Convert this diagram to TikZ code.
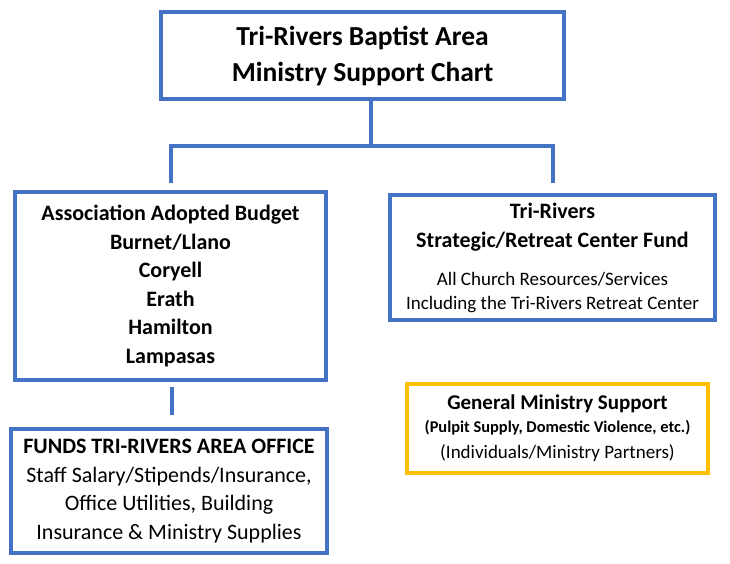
\documentclass[tikz,border=0pt]{standalone}
\usepackage{fontspec}
\setmainfont{Carlito}
\usepackage{xcolor}
\usepackage{tikz}
\usetikzlibrary{positioning}
\definecolor{trBlue}{HTML}{4472C4}
\definecolor{trGold}{HTML}{FFC000}
\tikzset{
  chartbox/.style={
    rectangle, draw=#1, line width=4pt,
    fill=white, inner sep=0pt,
    align=center
  },
  link/.style={
    trBlue, line width=4pt
  },
  fs/.style 2 args={font=\fontsize{#1}{#2}\selectfont}
}
\newcommand{\sz}[1]{\fontsize{#1}{#1}\selectfont}

\begin{document}
\begin{tikzpicture}[x=1pt, y=-1pt]
      \useasboundingbox (0,0) rectangle (730,563);
      % boxes
      \node[chartbox=trBlue, minimum width=403pt, minimum height=87pt, fs={27.5}{36}]
        (top) at (362.5,55.5) {\bfseries Tri-Rivers Baptist Area\\\bfseries Ministry Support Chart};
      \node[chartbox=trBlue, minimum width=311pt, minimum height=188pt, fs={22}{28.5}]
        (lft) at (170.5,286) {\bfseries Association Adopted Budget\\\bfseries Burnet/Llano\\\bfseries Coryell\\
        \bfseries Erath\\\bfseries Hamilton\\\bfseries Lampasas};
      \node[chartbox=trBlue, minimum width=325pt, minimum height=125pt, fs={19}{24}]
        (rgt) at (552.5,257.5) {\sz{22}\bfseries Tri-Rivers\\[5pt]
        \sz{22}\bfseries Strategic/Retreat Center Fund\\[14pt]
        All Church Resources/Services\\
        Including the Tri-Rivers Retreat Center};
      \node[chartbox=trBlue, minimum width=316pt, minimum height=124pt, fs={22}{28.7}]
        (fnd) at (169,491) {\bfseries FUNDS TRI-RIVERS AREA OFFICE\\Staff Salary/Stipends/Insurance,\\
        Office Utilities, Building\\Insurance \& Ministry Supplies};
      \node[chartbox=trGold, minimum width=301pt, minimum height=89pt, fs={19}{23}]
        (gms) at (557.5,428.5) {\sz{21}\bfseries General Ministry Support\\
        \sz{16.4}\bfseries (Pulpit Supply, Domestic Violence, etc.)\\[3pt]
        (Individuals/Ministry Partners)};
      % connectors
      \coordinate (fork) at (371,146);
      \coordinate (lt) at ([yshift=7pt]lft.north);
      \coordinate (rt) at ([yshift=10pt]rgt.north);
      \draw[link] (top.south -| fork) -- (fork);
      \draw[link] (lt) |- (fork) -| (rt);
      \draw[link, shorten <=5pt, shorten >=12pt] ([xshift=1.5pt]lft.south) -- ([xshift=1.5pt]lft.south |- fnd.north);
    \end{tikzpicture}
\end{document}
